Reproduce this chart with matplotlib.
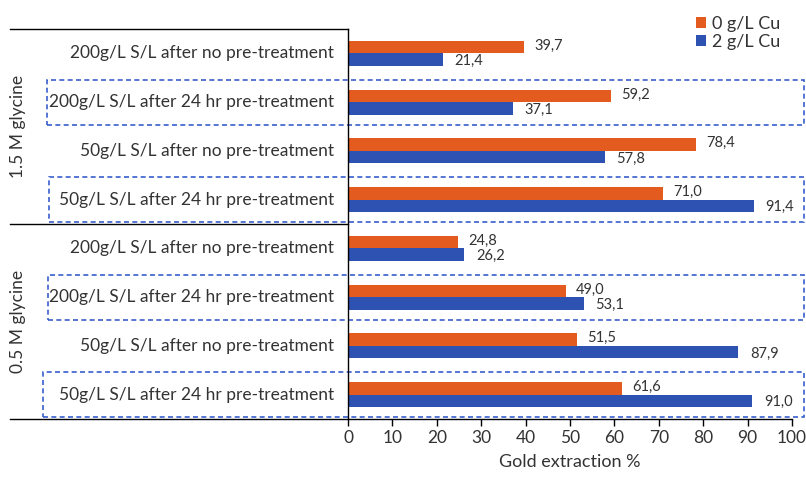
import matplotlib.pyplot as plt
from matplotlib.patches import Rectangle
from matplotlib.lines import Line2D
import matplotlib.transforms as mtransforms

plt.rcParams['font.family'] = ['Lato', 'DejaVu Sans']

# categorias de arriba hacia abajo
conditions = ['200g/L S/L after no pre-treatment',
              '200g/L S/L after 24 hr pre-treatment',
              '50g/L S/L after no pre-treatment',
              '50g/L S/L after 24 hr pre-treatment',
              '200g/L S/L after no pre-treatment',
              '200g/L S/L after 24 hr pre-treatment',
              '50g/L S/L after no pre-treatment',
              '50g/L S/L after 24 hr pre-treatment']
cu0 = [39.7, 59.2, 78.4, 71.0, 24.8, 49.0, 51.5, 61.6]
cu2 = [21.4, 37.1, 57.8, 91.4, 26.2, 53.1, 87.9, 91.0]
groups = ['1.5 M glycine', '0.5 M glycine']
boxed = [1, 3, 5, 7]

orange = '#E35B1E'
blue = '#2E52B2'
txt = '#333333'

fig = plt.figure(figsize=(8.06, 4.78), dpi=100)
W, H = 806, 478
ax = fig.add_axes([348 / W, (H - 419) / H, (792 - 348) / W, (419 - 29) / H])

n = len(conditions)
pos = [n - 1 - i for i in range(n)]
bh = 0.256
ax.barh([p + bh / 2 for p in pos], cu0, height=bh, color=orange, label='0 g/L Cu')
ax.barh([p - bh / 2 for p in pos], cu2, height=bh, color=blue, label='2 g/L Cu')

# valores al final de cada barra, con coma decimal
for p, a, b in zip(pos, cu0, cu2):
    ax.annotate(f'{a:.1f}'.replace('.', ','), (a, p + bh / 2), xytext=(7.5, 1),
                textcoords='offset points', ha='left', va='center', fontsize=10.5, color=txt)
    ax.annotate(f'{b:.1f}'.replace('.', ','), (b, p - bh / 2), xytext=(8.5, -1),
                textcoords='offset points', ha='left', va='center', fontsize=10.5, color=txt)

ax.set_xlim(0, 100)
ax.set_ylim(-0.5, n - 0.5)
ax.set_xticks(range(0, 101, 10))
ax.tick_params(axis='x', direction='out', length=5, width=1, labelsize=12.5,
               labelcolor=txt, color='black', pad=3)
ax.set_yticks([])
ax.set_xlabel('Gold extraction %', fontsize=13, color=txt, labelpad=6)
for s in ['top', 'right']:
    ax.spines[s].set_visible(False)
ax.spines['left'].set_linewidth(1)
ax.spines['bottom'].set_linewidth(1)

# etiquetas de las categorias
tr = mtransforms.blended_transform_factory(fig.transFigure, ax.transData)
for p, c in zip(pos, conditions):
    ax.text(334 / W, p, c, transform=tr, ha='right', va='center', fontsize=12.5,
            color=txt, clip_on=False)

# nombres de los grupos
ax.text(18 / W, 5.5, groups[0], transform=tr, rotation=90, ha='center', va='center',
        fontsize=12.5, color=txt)
ax.text(18 / W, 1.5, groups[1], transform=tr, rotation=90, ha='center', va='center',
        fontsize=12.5, color=txt)

# lineas horizontales que separan los grupos
for yv in [n - 0.5, 3.5, -0.5]:
    ax.add_line(Line2D([10 / W, 348 / W], [yv, yv], transform=tr, color='black',
                       lw=1, clip_on=False))

# recuadros punteados
lefts = {1: 47, 3: 49, 5: 48, 7: 43}
for i in boxed:
    p = pos[i]
    x0 = lefts[i] / W
    ax.add_patch(Rectangle((x0, p - 0.46), 804 / W - x0, 0.92, transform=tr,
                           fill=False, edgecolor='#3A5FCD', lw=1.2, ls=(0, (3, 2)),
                           clip_on=False))

fig.legend(loc='upper left', bbox_to_anchor=(689 / W, 1 - 9 / H), frameon=False,
           fontsize=13, handlelength=0.55, handleheight=0.55, handletextpad=0.35,
           labelspacing=0.1, borderaxespad=0, labelcolor=txt)

fig.savefig('out.png', dpi=100)
